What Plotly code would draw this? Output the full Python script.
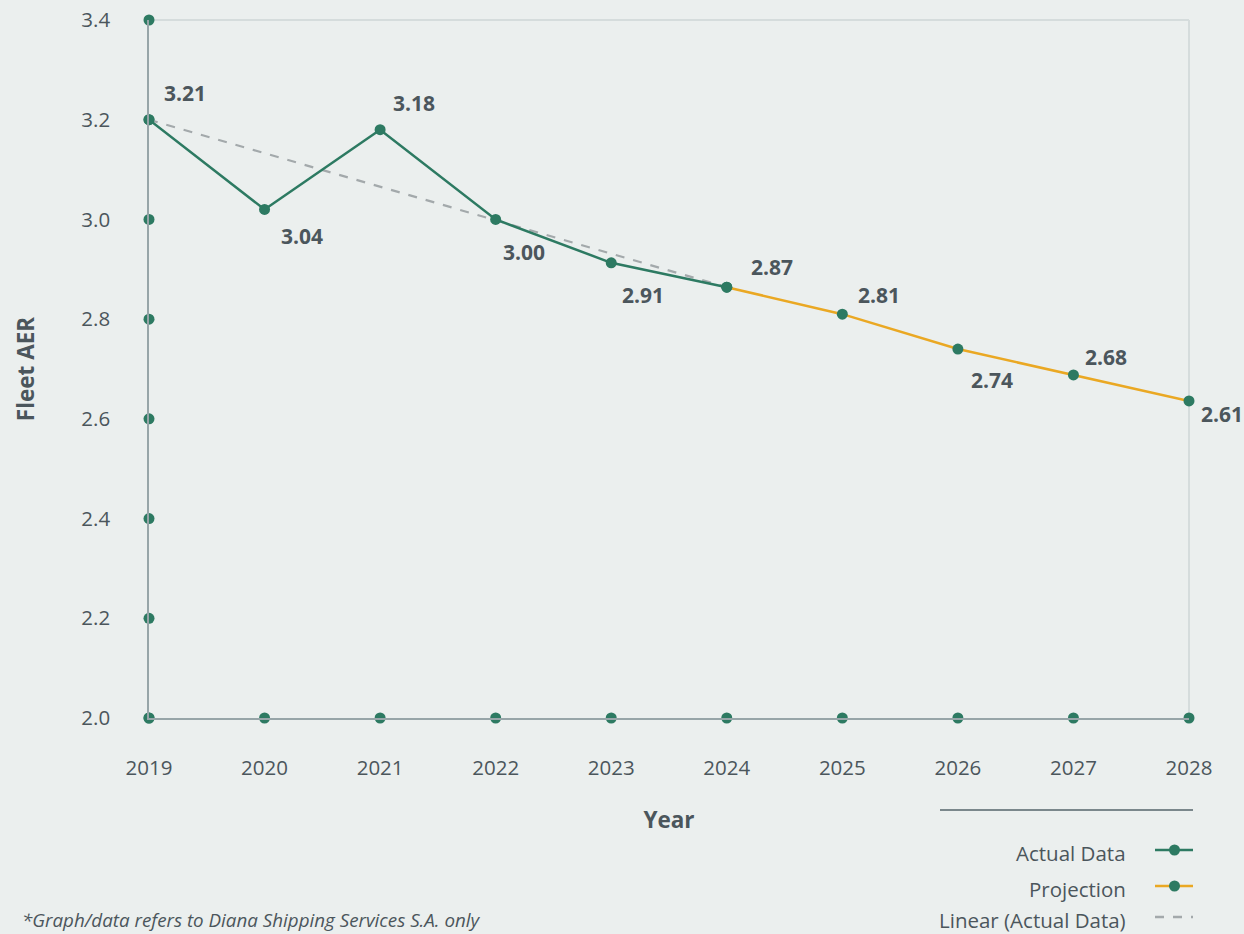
import plotly.graph_objects as go

# ---- data ----
years_actual = [2019, 2020, 2021, 2022, 2023, 2024]
aer_actual = [3.20, 3.02, 3.18, 3.00, 2.913, 2.864]
labels_actual = ["3.21", "3.04", "3.18", "3.00", "2.91", "2.87"]

years_proj = [2024, 2025, 2026, 2027, 2028]
aer_proj = [2.864, 2.81, 2.74, 2.688, 2.636]
labels_proj = ["", "2.81", "2.74", "2.68", "2.61"]

trend_years = [2019, 2024]
trend_values = [3.20, 2.864]

x_ticks = [2019, 2020, 2021, 2022, 2023, 2024, 2025, 2026, 2027, 2028]
y_ticks = [2.0, 2.2, 2.4, 2.6, 2.8, 3.0, 3.2, 3.4]

# ---- style ----
BG = "#ebefee"
GREEN = "#2d7a62"
ORANGE = "#eaa823"
TEXT = "#4b565c"
AXIS = "#97a5a8"
BORDER = "#d5dcdc"
FONT = "Open Sans"

W, H = 1244, 934
L, R, T, B = 149, 55, 20, 216
PW, PH = W - L - R, H - T - B


def px(x):
    return (x - L) / PW


def py(y):
    return (H - B - y) / PH


fig = go.Figure()

# axis decoration dots
fig.add_trace(go.Scatter(x=[x_ticks[0]] * len(y_ticks), y=y_ticks, mode="markers",
                         marker=dict(color=GREEN, size=11), cliponaxis=False,
                         showlegend=False, hoverinfo="skip"))
fig.add_trace(go.Scatter(x=x_ticks, y=[y_ticks[0]] * len(x_ticks), mode="markers",
                         marker=dict(color=GREEN, size=11), cliponaxis=False,
                         showlegend=False, hoverinfo="skip"))

fig.add_trace(go.Scatter(x=trend_years, y=trend_values, mode="lines",
                         line=dict(color="#a3a9ab", width=2.2, dash="dash"),
                         showlegend=False, hoverinfo="skip"))
fig.add_trace(go.Scatter(x=years_proj, y=aer_proj, mode="lines+markers",
                         line=dict(color=ORANGE, width=2.5),
                         marker=dict(color=GREEN, size=11), cliponaxis=False,
                         showlegend=False))
fig.add_trace(go.Scatter(x=years_actual, y=aer_actual, mode="lines+markers",
                         line=dict(color=GREEN, width=2.5),
                         marker=dict(color=GREEN, size=11), cliponaxis=False,
                         showlegend=False))

# data labels (offsets in pixels)
offsets_actual = [(36, 27), (37, -27), (34, 27), (28, -33), (32, -32), (45, 20)]
offsets_proj = [(0, 0), (37, 19), (34, -31), (33, 18), (33, -13)]
annotations = []
for xs, ys, labs, offs in [(years_actual, aer_actual, labels_actual, offsets_actual),
                           (years_proj, aer_proj, labels_proj, offsets_proj)]:
    for x, y, t, (dx, dy) in zip(xs, ys, labs, offs):
        if not t:
            continue
        annotations.append(dict(x=x, y=y, text=t, showarrow=False, xshift=dx, yshift=dy,
                                font=dict(family=FONT, size=21, color=TEXT, weight="bold")))

# legend (manual, symbols on the right)
legend_items = [("Actual Data", GREEN, "solid", True, 853),
                ("Projection", ORANGE, "solid", True, 889),
                ("Linear (Actual Data)", "#a3a9ab", "dash", False, 920)]
shapes = [dict(type="line", xref="paper", yref="paper", x0=px(940), x1=px(1193),
               y0=py(810), y1=py(810), line=dict(color="#7a878b", width=2))]
for name, col, dash, dot, yy in legend_items:
    annotations.append(dict(xref="paper", yref="paper", x=px(1128), y=py(yy),
                            xanchor="right", yanchor="middle", text=name, showarrow=False,
                            font=dict(family=FONT, size=20.5, color=TEXT)))
    shapes.append(dict(type="line", xref="paper", yref="paper", x0=px(1155), x1=px(1193),
                       y0=py(yy - 3), y1=py(yy - 3), line=dict(color=col, width=2.5, dash=dash)))
    if dot:
        shapes.append(dict(type="circle", xref="paper", yref="paper",
                           x0=px(1169), x1=px(1180), y0=py(yy + 2.5), y1=py(yy - 8.5),
                           fillcolor=GREEN, line=dict(width=0)))

# footnote
annotations.append(dict(xref="paper", yref="paper", x=px(20), y=py(920), xanchor="left",
                        yanchor="middle", showarrow=False,
                        text="<i>*Graph/data refers to Diana Shipping Services S.A. only</i>",
                        font=dict(family=FONT, size=18.8, color=TEXT)))

# frame top/right
shapes.append(dict(type="line", xref="paper", yref="paper", x0=0, x1=1, y0=1, y1=1,
                   line=dict(color=BORDER, width=2), layer="below"))
shapes.append(dict(type="line", xref="paper", yref="paper", x0=1, x1=1, y0=0, y1=1,
                   line=dict(color=BORDER, width=2), layer="below"))

fig.update_layout(
    width=W, height=H,
    margin=dict(l=L, r=R, t=T, b=B, autoexpand=False),
    paper_bgcolor=BG, plot_bgcolor=BG,
    font=dict(family=FONT, color=TEXT, size=20),
    annotations=annotations, shapes=shapes,
    showlegend=False,
    xaxis=dict(range=[2019, 2028], tickvals=x_ticks, ticktext=[str(v) for v in x_ticks],
               showgrid=False, zeroline=False, showline=True, linecolor=AXIS, linewidth=1.5,
               ticks="", ticklabelstandoff=31, tickfont=dict(size=20.5, color=TEXT),
               automargin=False,
               title=dict(text="<b>Year</b>", font=dict(size=22.5, color=TEXT), standoff=32)),
    yaxis=dict(range=[2.0, 3.4], tickvals=y_ticks, ticktext=[f"{v:.1f}" for v in y_ticks],
               showgrid=False, zeroline=False, showline=True, linecolor=AXIS, linewidth=1.5,
               ticks="", ticklabelstandoff=33, tickfont=dict(size=20.5, color=TEXT),
               automargin=False,
               title=dict(text="<b>Fleet AER</b>", font=dict(size=22.5, color=TEXT), standoff=40)),
)

fig.write_html("out.html")
